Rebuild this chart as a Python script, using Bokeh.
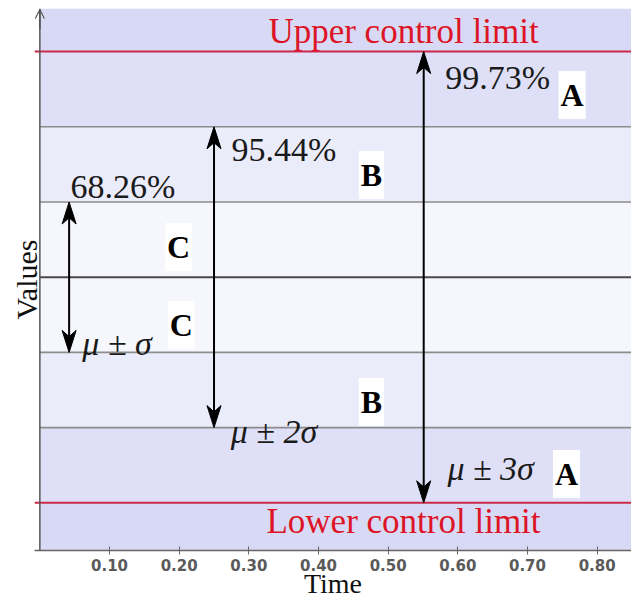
import numpy as np
from bokeh.plotting import figure
from bokeh.models import Range1d, Arrow, OpenHead, Label, FixedTicker
from bokeh.embed import file_html
from bokeh.resources import INLINE

# ---- data ----
mu = 0.0
sigma = 1.0
sigma_levels = [1, 2, 3]
coverage_labels = ["68.26%", "95.44%", "99.73%"]
sigma_labels = ["μ ± σ", "μ ± 2σ", "μ ± 3σ"]
arrow_times = [0.042, 0.25, 0.551]
zone_letters = ["C", "B", "A"]
x_ticks = [0.1, 0.2, 0.3, 0.4, 0.5, 0.6, 0.7, 0.8]
x_tick_labels = ["0.10", "0.20", "0.30", "0.40", "0.50", "0.60", "0.70", "0.80"]
time_range = (-0.0077, 0.8493)
value_range = (-3.634, 3.573)

SERIF = "Liberation Serif"
W, H = 631, 601
BL, BR, BT, BB = 34, 0, 8, 51

p = figure(width=W, height=H, output_backend="svg", toolbar_location=None,
           x_range=Range1d(*time_range), y_range=Range1d(*value_range),
           min_border_left=BL, min_border_right=BR, min_border_top=BT, min_border_bottom=BB)
p.grid.visible = False
p.outline_line_color = None
p.background_fill_color = "white"
p.border_fill_color = "white"

# pixel -> data conversion factors (for arrow head shapes)
dx_px = (time_range[1] - time_range[0]) / (W - BL - BR)
dy_px = (value_range[1] - value_range[0]) / (H - BT - BB)

# ---- zones ----
x_end = time_range[1]
beyond_col = "#d8daf5"
zone_cols = {"A": "#dfe0f7", "B": "#ebecfa", "C": "#f5f7fd"}
p.quad(left=0, right=x_end, bottom=mu + 3 * sigma, top=value_range[1], fill_color=beyond_col, line_color=None)
p.quad(left=0, right=x_end, bottom=value_range[0], top=mu - 3 * sigma, fill_color=beyond_col, line_color=None)
for k, z in zip(sigma_levels, zone_letters):
    p.quad(left=0, right=x_end, bottom=mu + (k - 1) * sigma, top=mu + k * sigma, fill_color=zone_cols[z], line_color=None)
    p.quad(left=0, right=x_end, bottom=mu - k * sigma, top=mu - (k - 1) * sigma, fill_color=zone_cols[z], line_color=None)

# ---- horizontal lines ----
for k in sigma_levels[:2]:
    for s in (1, -1):
        p.segment(x0=0, y0=mu + s * k * sigma, x1=x_end, y1=mu + s * k * sigma, line_color="#8c8c8c", line_width=1.6)
p.segment(x0=0, y0=mu, x1=x_end, y1=mu, line_color="#4a4a4a", line_width=2)
for s in (1, -1):
    p.segment(x0=time_range[0], y0=mu + s * 3 * sigma, x1=x_end, y1=mu + s * 3 * sigma, line_color="#cc2a48", line_width=2)

# ---- y axis (line drawn at time 0, label via axis) ----
p.segment(x0=0, y0=value_range[0], x1=0, y1=value_range[1], line_color="#555555", line_width=1.5)
p.add_layout(Arrow(end=OpenHead(size=9, line_color="#555555", line_width=1.2),
                   x_start=0, y_start=3.3, x_end=0, y_end=3.56, line_color="#555555", line_width=1.5))
ya = p.yaxis[0]
ya.ticker = FixedTicker(ticks=[])
ya.axis_line_color = None
ya.major_tick_line_color = None
ya.minor_tick_line_color = None
ya.major_tick_in = 0
ya.major_tick_out = 0
ya.major_label_standoff = 0
ya.major_label_text_font_size = "0px"
ya.axis_label = "Values"
ya.axis_label_text_font = SERIF
ya.axis_label_text_font_size = "30px"
ya.axis_label_text_font_style = "normal"
ya.axis_label_text_color = "#111111"
ya.axis_label_standoff = -8

# ---- x axis ----
xa = p.xaxis[0]
xa.ticker = FixedTicker(ticks=x_ticks)
xa.major_label_overrides = {t: l for t, l in zip(x_ticks, x_tick_labels)}
xa.minor_tick_line_color = None
xa.axis_line_color = "#666666"
xa.axis_line_width = 1.5
xa.major_tick_line_color = "#666666"
xa.major_tick_in = 4
xa.major_tick_out = 4
xa.major_label_standoff = 4
xa.major_label_text_font = "DejaVu Sans"
xa.major_label_text_font_style = "bold"
xa.major_label_text_font_size = "15px"
xa.major_label_text_color = "#5a5a5a"
xa.axis_label = "Time"
xa.axis_label_text_font = SERIF
xa.axis_label_text_font_size = "28px"
xa.axis_label_text_font_style = "normal"
xa.axis_label_text_color = "#111111"
xa.axis_label_standoff = -6

# ---- double arrows: shaft + filled stealth heads ----
HL, HW, HN = 22, 14, 0.72  # head length px, width px, notch fraction
head_xs, head_ys = [], []
for k, xt in zip(sigma_levels, arrow_times):
    p.segment(x0=xt, y0=mu - k * sigma + 10 * dy_px, x1=xt, y1=mu + k * sigma - 10 * dy_px,
              line_color="black", line_width=2)
    for s in (1, -1):
        tip = mu + s * k * sigma
        head_xs.append([xt, xt - HW / 2 * dx_px, xt, xt + HW / 2 * dx_px])
        head_ys.append([tip, tip - s * HL * dy_px, tip - s * HL * HN * dy_px, tip - s * HL * dy_px])
p.patches(xs=head_xs, ys=head_ys, fill_color="black", line_color="black", line_width=1)

def lab(x, y, text, size, align="left", style="normal", color="#1a1a1a", bg=None, pad=0):
    p.add_layout(Label(x=x, y=y, text=text, text_font=SERIF, text_font_size=size,
                       text_align=align, text_baseline="middle", text_font_style=style,
                       text_color=color, background_fill_color=bg, padding=pad))

# coverage labels
cov_pos = [(0.044, 1.206), (0.275, 1.698), (0.582, 2.649)]
for (x, y), t in zip(cov_pos, coverage_labels):
    lab(x, y, t, "34px")

# sigma labels
sig_pos = [(0.061, -0.887), (0.274, -2.05), (0.585, -2.54)]
for (x, y), t in zip(sig_pos, sigma_labels):
    lab(x, y, t, "34px", style="italic")

# zone letters
letter_pos = {"A": [(0.764, 2.424), (0.756, -2.616)],
              "B": [(0.476, 1.36), (0.476, -1.658)],
              "C": [(0.199, 0.403), (0.203, -0.634)]}
for z in zone_letters:
    for (x, y) in letter_pos[z]:
        lab(x, y, z, "32px", align="center", style="bold", color="black", bg="white", pad=(2, 6))

# control limits
lab(0.522, 3.262, "Upper control limit", "35px", align="center", color="#dd1426")
lab(0.522, -3.242, "Lower control limit", "35px", align="center", color="#dd1426")

open("out.html", "w").write(file_html(p, INLINE))
